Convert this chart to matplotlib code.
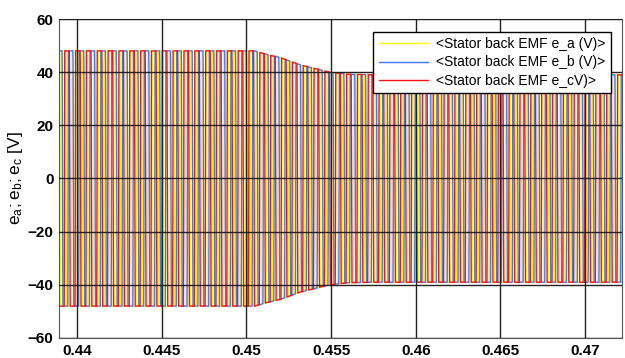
import numpy as np
import matplotlib
matplotlib.use("Agg")
import matplotlib.pyplot as plt

plt.rcParams['font.family'] = ['Liberation Sans', 'DejaVu Sans']

# amplitude envelope of the back EMF
env_t = [0.4385, 0.4505, 0.4513, 0.4520, 0.4532, 0.4541, 0.4549, 0.4560, 0.4575, 0.4725]
env_v = [48.0, 48.0, 46.5, 45.5, 42.7, 41.3, 40.0, 39.2, 39.0, 39.0]

# electrical period (s), estimated from pulse spacing
period = 0.00064

# one period of the trapezoidal shape (fraction of period, per-unit value)
shape_ph = [0.0, 0.03, 0.47, 0.53, 0.97, 1.0]
shape_val = [-1.0, 1.0, 1.0, -1.0, -1.0, -1.0]

phase_shift = [0.0, 1/3, 2/3]
names = ['<Stator back EMF e_a (V)>', '<Stator back EMF e_b (V)>', '<Stator back EMF e_cV)>']
colors = ['#ffff00', '#3a78ff', '#ff1010']

xticks = [0.44, 0.445, 0.45, 0.455, 0.46, 0.465, 0.47]
yticks = [-60, -40, -20, 0, 20, 40, 60]


def trapezoid(t, shift):
    ph = (t / period + shift) % 1.0
    return np.interp(ph, shape_ph, shape_val)


t = np.arange(env_t[0], env_t[-1], period / 60)
amp = np.interp(t, env_t, env_v)

fig = plt.figure(figsize=(6.25, 3.58), dpi=100)
ax = fig.add_axes([0.0944, 0.0559, 0.9008, 0.891])

for k in range(3):
    ax.plot(t, amp * trapezoid(t, phase_shift[k]), color=colors[k], lw=1.0, label=names[k])

ax.set_xlim(0.43894, 0.47218)
ax.set_ylim(-60, 60)
ax.set_xticks(xticks)
ax.set_xticklabels(['0.44', '0.445', '0.45', '0.455', '0.46', '0.465', '0.47'])
ax.set_yticks(yticks)
ax.tick_params(labelsize=11, length=0, pad=4)
for lab in ax.get_xticklabels() + ax.get_yticklabels():
    lab.set_fontweight('bold')
ax.grid(True, color='#222222', lw=1.0)
ax.set_axisbelow(False)
for s in ax.spines.values():
    s.set_color('#555555')
ax.set_ylabel(r'$\mathregular{e_a; e_b; e_c}$ [V]', fontsize=12.5, labelpad=2)

leg = ax.legend(loc='upper right', bbox_to_anchor=(0.98, 0.96), fontsize=10,
                frameon=True, fancybox=False, handlelength=3.5, borderpad=0.4,
                labelspacing=0.3, handletextpad=0.6, borderaxespad=0)
leg.get_frame().set_edgecolor('black')
leg.get_frame().set_linewidth(1.0)
leg.get_frame().set_alpha(1.0)

fig.savefig('out.png', dpi=100)
